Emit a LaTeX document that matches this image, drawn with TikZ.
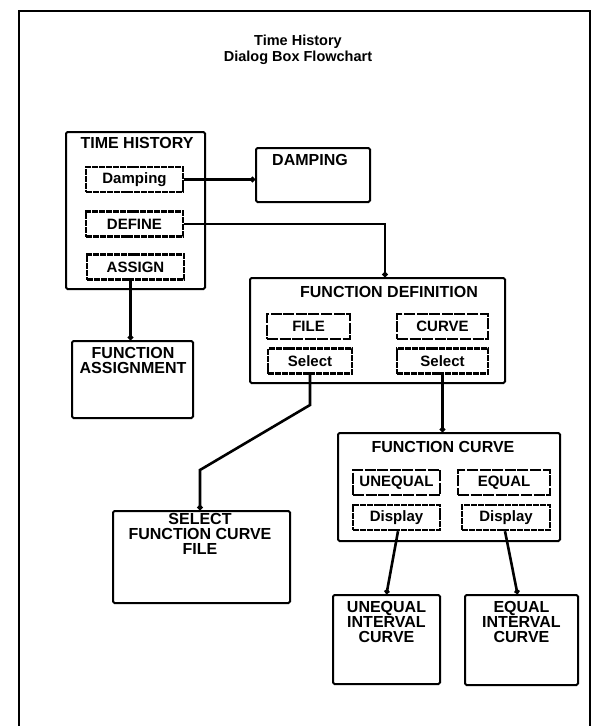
\documentclass[tikz,border=0pt]{standalone}
\usepackage{fontspec}
\setmainfont{Liberation Sans}
\usetikzlibrary{arrows.meta, positioning, calc}

\tikzset{
  panel/.style={draw, line width=2pt, rounded corners=1.5pt, inner sep=0pt},
  pushbtn/.style={draw, line width=2.4pt, dash pattern=on 6pt off 0.9pt,
                  inner sep=0pt, minimum height=25pt, font=\fontsize{15}{15}\selectfont\bfseries},
  fieldbox/.style={draw, line width=1.6pt, dash pattern=on 11pt off 1.6pt,
                   inner sep=0pt, minimum height=25pt, font=\fontsize{15}{15}\selectfont\bfseries},
  lbl/.style={font=\fontsize{16}{15}\selectfont\bfseries, align=center,
              inner sep=0pt},
  link/.style={line width=2.6pt, -{Circle[length=5pt]}},
}

\begin{document}
\begin{tikzpicture}[x=1pt, y=-1pt]
  \useasboundingbox (0,0) rectangle (594,726);
  % page frame
  \draw[line width=2pt] (19,726) -- (19,11) -- (590,11) -- (590,726);

  % title
  \node[lbl, font=\fontsize{14.5}{16}\selectfont\bfseries] (head) at (298,50)
    {Time History\\Dialog Box Flowchart};

  % outer dialog boxes
  \node[panel, minimum width=139pt, minimum height=157pt] (thist) at (135.5,210.5) {};
  \node[panel, minimum width=114pt, minimum height=54pt] (damp) at (313,175) {};
  \node[panel, minimum width=121pt, minimum height=77pt] (fasg) at (132.5,379.5) {};
  \node[panel, minimum width=255pt, minimum height=105pt] (fdef) at (377.5,330.5) {};
  \node[panel, minimum width=177pt, minimum height=92pt] (sfile) at (201.5,557) {};
  \node[panel, minimum width=222pt, minimum height=108pt] (fcurve) at (449,487) {};
  \node[panel, minimum width=107pt, minimum height=89pt] (uneq) at (386.5,639.5) {};
  \node[panel, minimum width=113pt, minimum height=90pt] (eq) at (521.5,640) {};

  % box titles
  \node[lbl] at (137,143) {TIME HISTORY};
  \node[lbl] at (310,160) {DAMPING};
  \node[lbl] at (133,360) {FUNCTION\\ASSIGNMENT};
  \node[lbl] at (389,292) {FUNCTION DEFINITION};
  \node[lbl] at (200,534) {SELECT\\FUNCTION CURVE\\FILE};
  \node[lbl] at (443,447) {FUNCTION CURVE};
  \node[lbl] at (386.5,622) {UNEQUAL\\INTERVAL\\CURVE};
  \node[lbl] at (521.5,622) {EQUAL\\INTERVAL\\CURVE};

  % buttons and fields
  \node[pushbtn, minimum width=97pt] (dmpbtn) at (134.5,179.5) {Damping};
  \node[pushbtn, minimum width=97pt] (defbtn) at (134.5,224) {DEFINE};
  \node[pushbtn, minimum width=97pt] (asgbtn) at (135.5,267) {ASSIGN};
  \node[fieldbox, minimum width=83pt] (filefld) at (308.5,326.5) {FILE};
  \node[fieldbox, minimum width=91pt] (crvfld) at (442.5,326.5) {CURVE};
  \node[pushbtn, minimum width=84pt] (selL) at (310,361) {Select};
  \node[pushbtn, minimum width=91pt] (selR) at (442.5,361) {Select};
  \node[fieldbox, minimum width=87pt] (uneqfld) at (396.5,482.5) {UNEQUAL};
  \node[fieldbox, minimum width=92pt] (eqfld) at (504,482.5) {EQUAL};
  \node[pushbtn, minimum width=87pt] (dspL) at (396.5,517.5) {Display};
  \node[pushbtn, minimum width=88pt] (dspR) at (506,517.5) {Display};

  % connectors
  \coordinate (bendA) at (310,405);
  \coordinate (bendB) at (200,470);
  \draw[link] (dmpbtn.east) -- (dmpbtn.east -| damp.west);
  \draw[link] (defbtn.east) -| ([xshift=7.5pt]fdef.north);
  \draw[link] ([xshift=-5pt]asgbtn.south) -- ([xshift=-5pt]asgbtn.south |- fasg.north);
  \draw[link] (selL.south) -- (bendA) -- (bendB) -- (bendB |- sfile.north);
  \draw[link] (selR.south) -- (selR.south |- fcurve.north);
  \draw[link] ([xshift=1.5pt]dspL.south) -- (uneq.north);
  \draw[link] ([xshift=-1pt]dspR.south) -- ([xshift=-4pt]eq.north);
\end{tikzpicture}
\end{document}
